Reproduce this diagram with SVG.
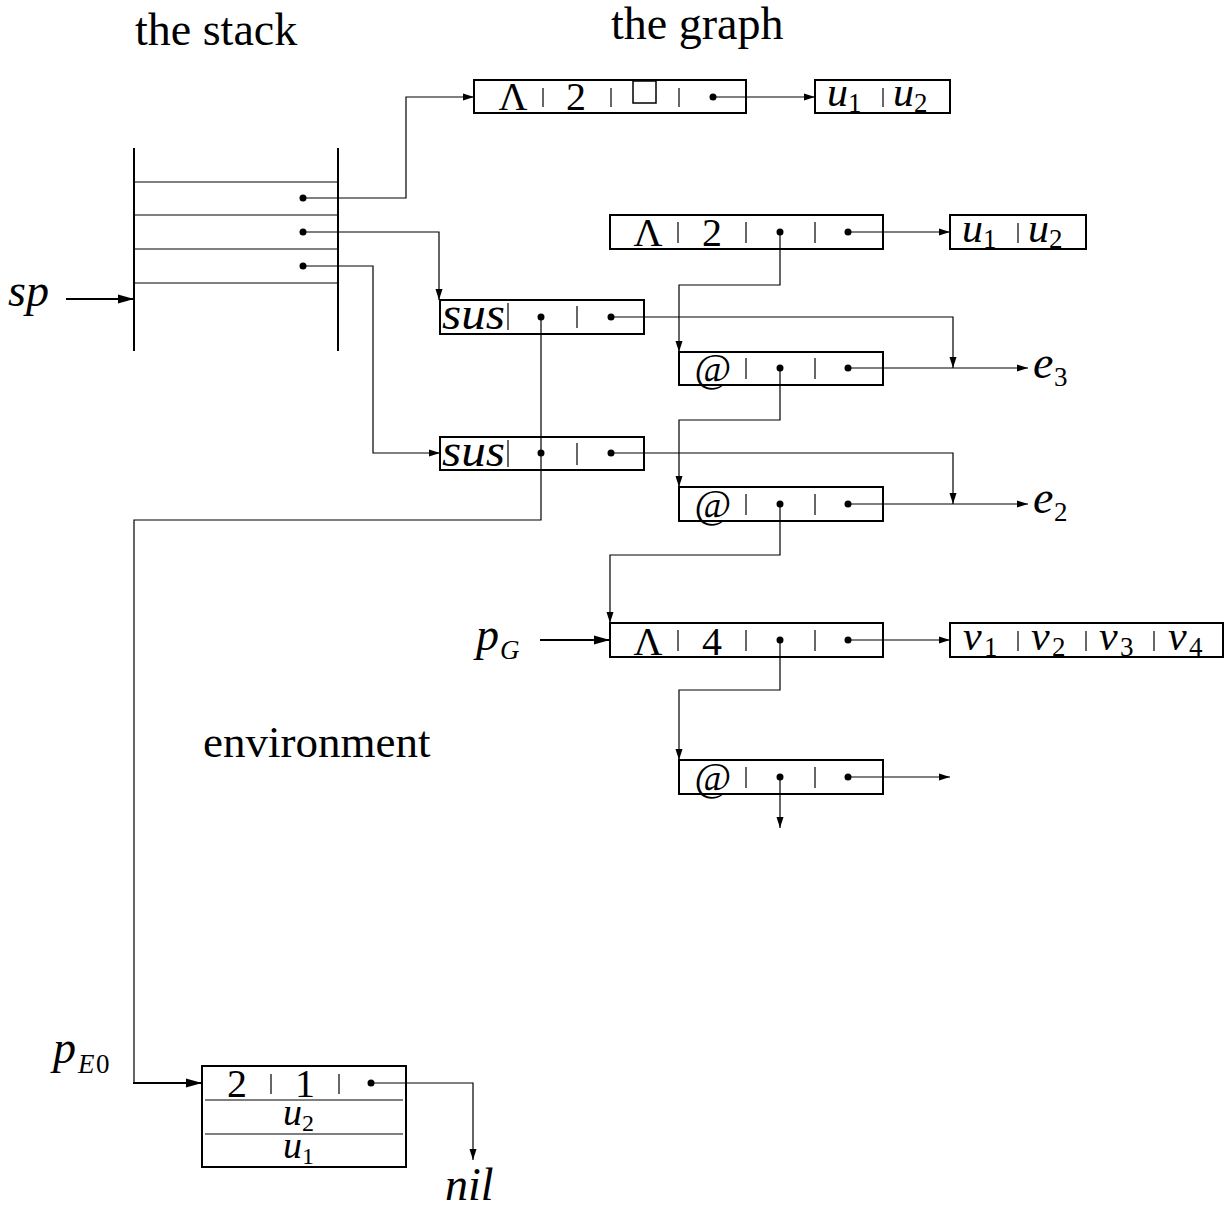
<svg xmlns="http://www.w3.org/2000/svg" width="1227" height="1209" viewBox="0 0 1227 1209">
<defs>
<marker id="ah" markerUnits="userSpaceOnUse" markerWidth="11" markerHeight="8" refX="11" refY="4" orient="auto"><path d="M0,0.5 L11,4 L0,7.5 z" fill="#000"/></marker>
<marker id="ahb" markerUnits="userSpaceOnUse" markerWidth="16" markerHeight="10" refX="16" refY="5" orient="auto"><path d="M0,0.5 L16,5 L0,9.5 z" fill="#000"/></marker>
</defs>
<style>
.box{fill:#fff;stroke:#000;stroke-width:2}
.sep{stroke:#000;stroke-width:1.2}
.conn{fill:none;stroke:#000;stroke-width:1.2}
.thick{fill:none;stroke:#000;stroke-width:2.2}
.dot{fill:#000}
.rm{font-family:"Liberation Serif","DejaVu Serif",serif;font-size:40px;fill:#000}
.it{font-family:"Liberation Serif","DejaVu Serif",serif;font-style:italic;font-size:42px;fill:#000}
.big{font-family:"Liberation Serif","DejaVu Serif",serif;font-style:italic;font-size:46px;fill:#000}
.sub{font-family:"Liberation Serif","DejaVu Serif",serif;font-size:27px;fill:#000}
.subi{font-family:"Liberation Serif","DejaVu Serif",serif;font-style:italic;font-size:27px;fill:#000}
.title{font-family:"Liberation Serif","DejaVu Serif",serif;font-size:46px;fill:#000}
</style>

<g id="titles">
<text class="title" x="135" y="45">the stack</text>
<text class="title" x="611" y="39">the graph</text>
<text class="title" x="203" y="757" style="font-size:45px">environment</text>
</g>

<g id="stack">
<line x1="134" y1="148" x2="134" y2="351" stroke="#000" stroke-width="2"/>
<line x1="338" y1="148" x2="338" y2="351" stroke="#000" stroke-width="2"/>
<line x1="134" y1="182" x2="338" y2="182" class="sep"/>
<line x1="134" y1="215" x2="338" y2="215" class="sep"/>
<line x1="134" y1="249" x2="338" y2="249" class="sep"/>
<line x1="134" y1="283" x2="338" y2="283" class="sep"/>
<circle class="dot" cx="303" cy="198" r="3.5"/>
<circle class="dot" cx="303" cy="232" r="3.5"/>
<circle class="dot" cx="303" cy="266" r="3.5"/>
</g>

<g id="label-sp"><text class="big" x="8" y="306">sp</text></g>
<g id="label-pG"><text class="big" x="476" y="650">p</text><text class="subi" x="500" y="659">G</text></g>
<g id="label-pE0"><text class="big" x="53" y="1063">p</text><text class="subi" x="78" y="1073">E</text><text class="sub" x="96" y="1073">0</text></g>
<g id="label-e3"><text class="big" x="1033" y="378">e</text><text class="sub" x="1054" y="386">3</text></g>
<g id="label-e2"><text class="big" x="1033" y="513">e</text><text class="sub" x="1054" y="521">2</text></g>
<g id="label-nil"><text class="big" x="445" y="1200">nil</text></g>

<g id="node-lambda2a">
<rect class="box" x="474" y="80" width="272" height="33"/>
<text class="rm" x="513" y="110" text-anchor="middle">Λ</text>
<line class="sep" x1="543" y1="88" x2="543" y2="107"/>
<text class="rm" x="576" y="110" text-anchor="middle">2</text>
<line class="sep" x1="611" y1="88" x2="611" y2="107"/>
<rect x="633" y="81" width="23" height="22" fill="none" stroke="#000" stroke-width="1.5"/>
<line class="sep" x1="679" y1="88" x2="679" y2="107"/>
<circle class="dot" cx="713" cy="97" r="3.5"/>
</g>

<g id="node-u1u2a">
<rect class="box" x="815" y="80" width="135" height="33"/>
<text class="it" x="827" y="106">u</text><text class="sub" x="848" y="112">1</text>
<line class="sep" x1="883" y1="88" x2="883" y2="107"/>
<text class="it" x="893" y="106">u</text><text class="sub" x="914" y="112">2</text>
</g>

<g id="node-lambda2b">
<rect class="box" x="610" y="215" width="273" height="34"/>
<text class="rm" x="648" y="246" text-anchor="middle">Λ</text>
<line class="sep" x1="678" y1="222" x2="678" y2="243"/>
<text class="rm" x="712" y="246" text-anchor="middle">2</text>
<line class="sep" x1="746" y1="222" x2="746" y2="243"/>
<circle class="dot" cx="780" cy="232" r="3.5"/>
<line class="sep" x1="815" y1="222" x2="815" y2="243"/>
<circle class="dot" cx="848" cy="232" r="3.5"/>
</g>

<g id="node-u1u2b">
<rect class="box" x="950" y="215" width="136" height="34"/>
<text class="it" x="962" y="242">u</text><text class="sub" x="983" y="248">1</text>
<line class="sep" x1="1018" y1="223" x2="1018" y2="243"/>
<text class="it" x="1028" y="242">u</text><text class="sub" x="1049" y="248">2</text>
</g>

<g id="node-sus1">
<rect class="box" x="440" y="300" width="204" height="34"/>
<text class="big" x="442" y="329" textLength="63" lengthAdjust="spacingAndGlyphs">sus</text>
<line class="sep" x1="508" y1="303" x2="508" y2="330"/>
<circle class="dot" cx="541" cy="317" r="3.5"/>
<line class="sep" x1="577" y1="306" x2="577" y2="328"/>
<circle class="dot" cx="611" cy="317" r="3.5"/>
</g>

<g id="node-sus2">
<rect class="box" x="440" y="437" width="204" height="33"/>
<text class="big" x="442" y="466" textLength="63" lengthAdjust="spacingAndGlyphs">sus</text>
<line class="sep" x1="508" y1="440" x2="508" y2="467"/>
<circle class="dot" cx="541" cy="453" r="3.5"/>
<line class="sep" x1="577" y1="443" x2="577" y2="465"/>
<circle class="dot" cx="611" cy="453" r="3.5"/>
</g>

<g id="node-app1">
<rect class="box" x="679" y="352" width="204" height="33"/>
<text class="rm" x="713" y="381" text-anchor="middle">@</text>
<line class="sep" x1="746" y1="358" x2="746" y2="379"/>
<circle class="dot" cx="780" cy="368" r="3.5"/>
<line class="sep" x1="815" y1="358" x2="815" y2="379"/>
<circle class="dot" cx="848" cy="368" r="3.5"/>
</g>

<g id="node-app2">
<rect class="box" x="679" y="487" width="204" height="34"/>
<text class="rm" x="713" y="517" text-anchor="middle">@</text>
<line class="sep" x1="746" y1="494" x2="746" y2="515"/>
<circle class="dot" cx="780" cy="504" r="3.5"/>
<line class="sep" x1="815" y1="494" x2="815" y2="515"/>
<circle class="dot" cx="848" cy="504" r="3.5"/>
</g>

<g id="node-lambda4">
<rect class="box" x="610" y="623" width="273" height="34"/>
<text class="rm" x="648" y="655" text-anchor="middle">Λ</text>
<line class="sep" x1="678" y1="630" x2="678" y2="651"/>
<text class="rm" x="712" y="655" text-anchor="middle">4</text>
<line class="sep" x1="746" y1="630" x2="746" y2="651"/>
<circle class="dot" cx="780" cy="640" r="3.5"/>
<line class="sep" x1="815" y1="630" x2="815" y2="651"/>
<circle class="dot" cx="848" cy="640" r="3.5"/>
</g>

<g id="node-v">
<rect class="box" x="950" y="623" width="273" height="34"/>
<text class="it" x="963" y="650">v</text><text class="sub" x="984" y="656">1</text>
<line class="sep" x1="1018" y1="631" x2="1018" y2="651"/>
<text class="it" x="1031" y="650">v</text><text class="sub" x="1052" y="656">2</text>
<line class="sep" x1="1086" y1="631" x2="1086" y2="651"/>
<text class="it" x="1099" y="650">v</text><text class="sub" x="1120" y="656">3</text>
<line class="sep" x1="1154" y1="631" x2="1154" y2="651"/>
<text class="it" x="1168" y="650">v</text><text class="sub" x="1189" y="656">4</text>
</g>

<g id="node-app3">
<rect class="box" x="679" y="760" width="204" height="34"/>
<text class="rm" x="713" y="790" text-anchor="middle">@</text>
<line class="sep" x1="746" y1="767" x2="746" y2="788"/>
<circle class="dot" cx="780" cy="777" r="3.5"/>
<line class="sep" x1="815" y1="767" x2="815" y2="788"/>
<circle class="dot" cx="848" cy="777" r="3.5"/>
</g>

<g id="node-env">
<rect class="box" x="202" y="1066" width="204" height="101"/>
<text class="rm" x="237" y="1097" text-anchor="middle">2</text>
<line class="sep" x1="271" y1="1074" x2="271" y2="1094"/>
<text class="rm" x="305" y="1097" text-anchor="middle">1</text>
<line class="sep" x1="339" y1="1074" x2="339" y2="1094"/>
<circle class="dot" cx="371" cy="1083" r="3.5"/>
<line class="sep" x1="205" y1="1100" x2="403" y2="1100"/>
<text class="it" x="283" y="1125" style="font-size:38px">u</text><text class="sub" x="302" y="1131" style="font-size:24px">2</text>
<line class="sep" x1="205" y1="1134" x2="403" y2="1134"/>
<text class="it" x="283" y="1158" style="font-size:38px">u</text><text class="sub" x="302" y="1164" style="font-size:24px">1</text>
</g>

<g id="connectors">
<polyline class="conn" points="303,198 406,198 406,97 474,97" marker-end="url(#ah)"/>
<polyline class="conn" points="303,232 439,232 439,300" marker-end="url(#ah)"/>
<polyline class="conn" points="303,266 373,266 373,453 440,453" marker-end="url(#ah)"/>
<line class="thick" x1="66" y1="299" x2="134" y2="299" marker-end="url(#ahb)"/>
<line class="conn" x1="713" y1="97" x2="815" y2="97" marker-end="url(#ah)"/>
<line class="conn" x1="848" y1="232" x2="950" y2="232" marker-end="url(#ah)"/>
<polyline class="conn" points="780,232 780,285 679,285 679,352" marker-end="url(#ah)"/>
<polyline class="conn" points="611,317 953,317 953,368" marker-end="url(#ah)"/>
<line class="conn" x1="848" y1="368" x2="1028" y2="368" marker-end="url(#ah)"/>
<polyline class="conn" points="780,368 780,420 679,420 679,487" marker-end="url(#ah)"/>
<polyline class="conn" points="611,453 953,453 953,504" marker-end="url(#ah)"/>
<line class="conn" x1="848" y1="504" x2="1028" y2="504" marker-end="url(#ah)"/>
<polyline class="conn" points="780,504 780,555 610,555 610,623" marker-end="url(#ah)"/>
<line class="thick" x1="540" y1="640" x2="610" y2="640" marker-end="url(#ahb)"/>
<line class="conn" x1="848" y1="640" x2="950" y2="640" marker-end="url(#ah)"/>
<polyline class="conn" points="780,640 780,690 679,690 679,760" marker-end="url(#ah)"/>
<line class="conn" x1="848" y1="777" x2="950" y2="777" marker-end="url(#ah)"/>
<line class="conn" x1="780" y1="777" x2="780" y2="828" marker-end="url(#ah)"/>
<polyline class="conn" points="541,317 541,520 134,520 134,1083"/>
<line class="thick" x1="133" y1="1083" x2="202" y2="1083" marker-end="url(#ahb)"/>
<polyline class="conn" points="371,1083 473,1083 473,1160" marker-end="url(#ah)"/>
</g>
</svg>
